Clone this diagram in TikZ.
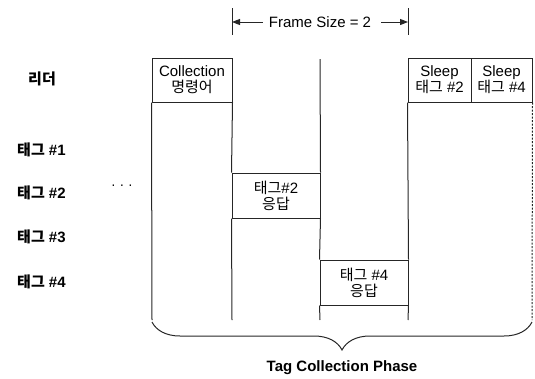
\documentclass[tikz,border=0pt]{standalone}
\usepackage{fontspec}
\setmainfont{Liberation Sans}
\newfontfamily\kr{Noto Sans CJK KR}
\usetikzlibrary{decorations.pathreplacing,arrows.meta}
\begin{document}
\begin{tikzpicture}[x=1pt,y=-1pt,
  ln/.style={draw=black!85,line width=1pt},
  cell/.style={ln,rectangle,inner sep=0pt,align=center,font=\fontsize{15}{16}\selectfont,fill=white},
  lbl/.style={font=\bfseries\fontsize{15}{16}\selectfont,anchor=west,inner sep=0pt},
  tip/.style={-{Triangle[length=8pt,width=6pt]}}]
\useasboundingbox (0,0) rectangle (535,378);
% frame size
\node[font=\fontsize{15}{16}\selectfont,inner sep=0pt] (fs) at (320,22) {Frame Size = 2};
\coordinate (tl) at (232,22);
\coordinate (tr) at (408,22);
\coordinate (tlt) at (232,8);
\coordinate (tlb) at (232,35);
\coordinate (trt) at (408,8);
\coordinate (trb) at (408,35);
\draw[ln] (tlt) -- (tlb);
\draw[ln] (trt) -- (trb);
\draw[ln,tip] ([xshift=-6pt]fs.west) -- (tl);
\draw[ln,tip] ([xshift=10pt]fs.east) -- (tr);
% header cells
\node[cell,minimum width=80pt,minimum height=44pt] (coll) at (192,80) {Collection\\{\kr 명령어}};
\node[cell,minimum width=63pt,minimum height=44pt] (s1) at (439.5,80) {Sleep\\{\kr 태그} \#2};
\node[cell,minimum width=61pt,minimum height=44pt] (s2) at (501.5,80) {Sleep\\{\kr 태그} \#4};
\node[cell,minimum width=88pt,minimum height=45pt] (t2) at (276,195.5) {{\kr 태그}\#2\\{\kr 응답}};
\node[cell,minimum width=88pt,minimum height=45pt] (t4) at (364,282.5) {{\kr 태그} \#4\\{\kr 응답}};
% vertical lines
\coordinate (b1) at (152,320);
\coordinate (b2) at (232,320);
\coordinate (b3) at (320,320);
\coordinate (b4) at (408,320);
\coordinate (b5) at (532,320);
\coordinate (c3) at (320,59);
\draw[ln] (coll.south west) -- (b1);
\draw[ln] (coll.south east) -- (t2.north west);
\draw[ln] (t2.south west) -- (b2);
\draw[ln] (c3) -- (t2.north east);
\draw[ln] (t2.south east) -- (t4.north west);
\draw[ln] (t4.south west) -- (b3);
\draw[ln] (s1.south west) -- (t4.north east);
\draw[ln] (t4.south east) -- (b4);
\draw[ln,dash pattern=on 2pt off 1.5pt] (s2.south east) -- (b5);
% labels
\node[font=\bfseries\fontsize{15}{16}\selectfont\kr,inner sep=0pt] (rd) at (42,79) {리더};
\node[lbl] (g1) at (17,150) {{\kr 태그} \#1};
\node[lbl] (g2) at (17,193) {{\kr 태그} \#2};
\node[lbl] (g3) at (17,237) {{\kr 태그} \#3};
\node[lbl] (g4) at (17,282) {{\kr 태그} \#4};
\node[font=\fontsize{14}{16}\selectfont,inner sep=0pt] (dots) at (122,187) {· · ·};
% brace
\coordinate (br1) at (152,322);
\coordinate (br2) at (532,322);
\draw[ln,decorate,decoration={brace,mirror,amplitude=28pt}] (br1) -- (br2);
\node[font=\bfseries\fontsize{15}{16}\selectfont,inner sep=0pt] (phase) at (342,368) {Tag Collection Phase};
\end{tikzpicture}
\end{document}
